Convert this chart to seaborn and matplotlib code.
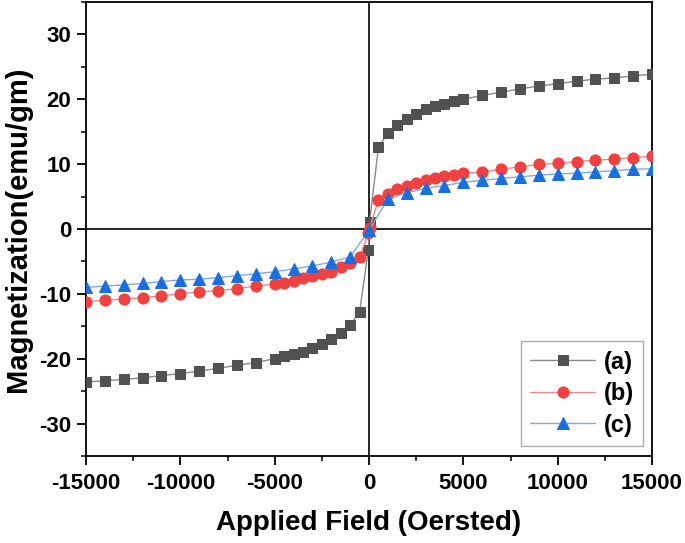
import numpy as np
import pandas as pd
import matplotlib
matplotlib.use("Agg")
import matplotlib.pyplot as plt
from matplotlib.ticker import MultipleLocator
import seaborn as sns

field_ab = [-15000, -14000, -13000, -12000, -11000, -10000, -9000, -8000, -7000, -6000,
            -5000, -4500, -4000, -3500, -3000, -2500, -2000, -1500, -1000, -500,
            -30, 30,
            500, 1000, 1500, 2000, 2500, 3000, 3500, 4000, 4500, 5000,
            6000, 7000, 8000, 9000, 10000, 11000, 12000, 13000, 14000, 15000]

mag_a = [-23.6, -23.4, -23.2, -22.95, -22.6, -22.3, -21.9, -21.5, -21.0, -20.6,
         -20.0, -19.6, -19.3, -18.9, -18.4, -17.7, -17.0, -16.0, -14.8, -12.8,
         -3.2, 1.1,
         12.6, 14.8, 16.1, 17.0, 17.8, 18.5, 18.9, 19.3, 19.7, 20.0,
         20.6, 21.1, 21.6, 22.05, 22.4, 22.8, 23.1, 23.3, 23.6, 23.85]

mag_b = [-11.2, -11.0, -10.8, -10.6, -10.3, -10.0, -9.7, -9.5, -9.2, -8.8,
         -8.5, -8.25, -8.0, -7.6, -7.3, -6.9, -6.6, -5.8, -5.3, -4.3,
         -0.6, 0.2,
         4.4, 5.4, 6.1, 6.7, 7.1, 7.5, 7.85, 8.1, 8.4, 8.6,
         8.8, 9.2, 9.6, 9.95, 10.15, 10.4, 10.6, 10.8, 11.0, 11.2]

field_c = [-15000, -14000, -13000, -12000, -11000, -10000, -9000, -8000, -7000, -6000,
           -5000, -4000, -3000, -2000, -1000, 0,
           1000, 2000, 3000, 4000, 5000, 6000, 7000, 8000, 9000, 10000,
           11000, 12000, 13000, 14000, 15000]

mag_c = [-9.0, -8.8, -8.6, -8.4, -8.1, -7.85, -7.75, -7.5, -7.2, -6.9,
         -6.6, -6.15, -5.7, -5.1, -4.3, -0.2,
         4.6, 5.6, 6.25, 6.7, 7.2, 7.5, 7.8, 8.05, 8.3, 8.5,
         8.6, 8.8, 9.0, 9.2, 9.3]

labels = ["(a)", "(b)", "(c)"]

sns.set_style("ticks")
plt.rcParams["font.family"] = ["Liberation Sans", "DejaVu Sans"]
plt.rcParams["font.weight"] = "bold"
plt.rcParams["axes.unicode_minus"] = False
plt.rcParams["text.color"] = "black"
plt.rcParams["xtick.color"] = "black"
plt.rcParams["ytick.color"] = "black"
plt.rcParams["axes.labelcolor"] = "black"

fig = plt.figure(figsize=(6.85, 5.43), dpi=100)
ax = fig.add_axes([86 / 685, 1 - 456 / 543, 566 / 685, 454 / 543])

# axes cross lines
ax.axhline(0, color="black", lw=1.2, zorder=1)
ax.axvline(0, color="black", lw=1.2, zorder=1)

series = [
    (field_ab, mag_a, "s", "#515151", "#8a8a8a", 7),
    (field_ab, mag_b, "o", "#F14040", "#f08a8a", 8),
    (field_c, mag_c, "^", "#1A6FDF", "#7fa9e6", 8.5),
]
for (fx, my, mk, mc, lc, ms), lab in zip(series, labels):
    df = pd.DataFrame({"H": fx, "M": my})
    sns.lineplot(data=df, x="H", y="M", ax=ax, sort=False, color=lc, lw=1.0,
                 marker=mk, markersize=ms, markerfacecolor=mc, markeredgecolor=mc,
                 label=lab, zorder=3)

ax.set_xlim(-15000, 15000)
ax.set_ylim(-35, 35)
ax.xaxis.set_major_locator(MultipleLocator(5000))
ax.xaxis.set_minor_locator(MultipleLocator(2500))
ax.yaxis.set_major_locator(MultipleLocator(10))
ax.yaxis.set_minor_locator(MultipleLocator(5))
ax.tick_params(which="major", length=6.5, width=1.3, labelsize=16, direction="out")
ax.tick_params(axis="x", which="major", pad=6)
ax.tick_params(axis="y", which="major", pad=4)
ax.tick_params(which="minor", length=3.5, width=1.1, direction="out")
for lab in ax.get_xticklabels() + ax.get_yticklabels():
    lab.set_fontweight("bold")
for sp in ax.spines.values():
    sp.set_linewidth(1.3)
    sp.set_color("black")

ax.set_xlabel("Applied Field (Oersted)", fontsize=20, fontweight="bold", labelpad=11)
ax.set_ylabel("Magnetization(emu/gm)", fontsize=21, fontweight="bold", labelpad=5)

leg = ax.legend(loc="lower right", bbox_to_anchor=(1 - 9 / 566, 10 / 454),
                borderaxespad=0, fancybox=False, frameon=True, fontsize=17,
                handlelength=2.75, handletextpad=0.35, borderpad=0.4,
                labelspacing=0.36)
leg.get_frame().set_edgecolor("#999999")
leg.get_frame().set_linewidth(1.0)
for t in leg.get_texts():
    t.set_fontweight("bold")

fig.savefig("out.png", dpi=100)
